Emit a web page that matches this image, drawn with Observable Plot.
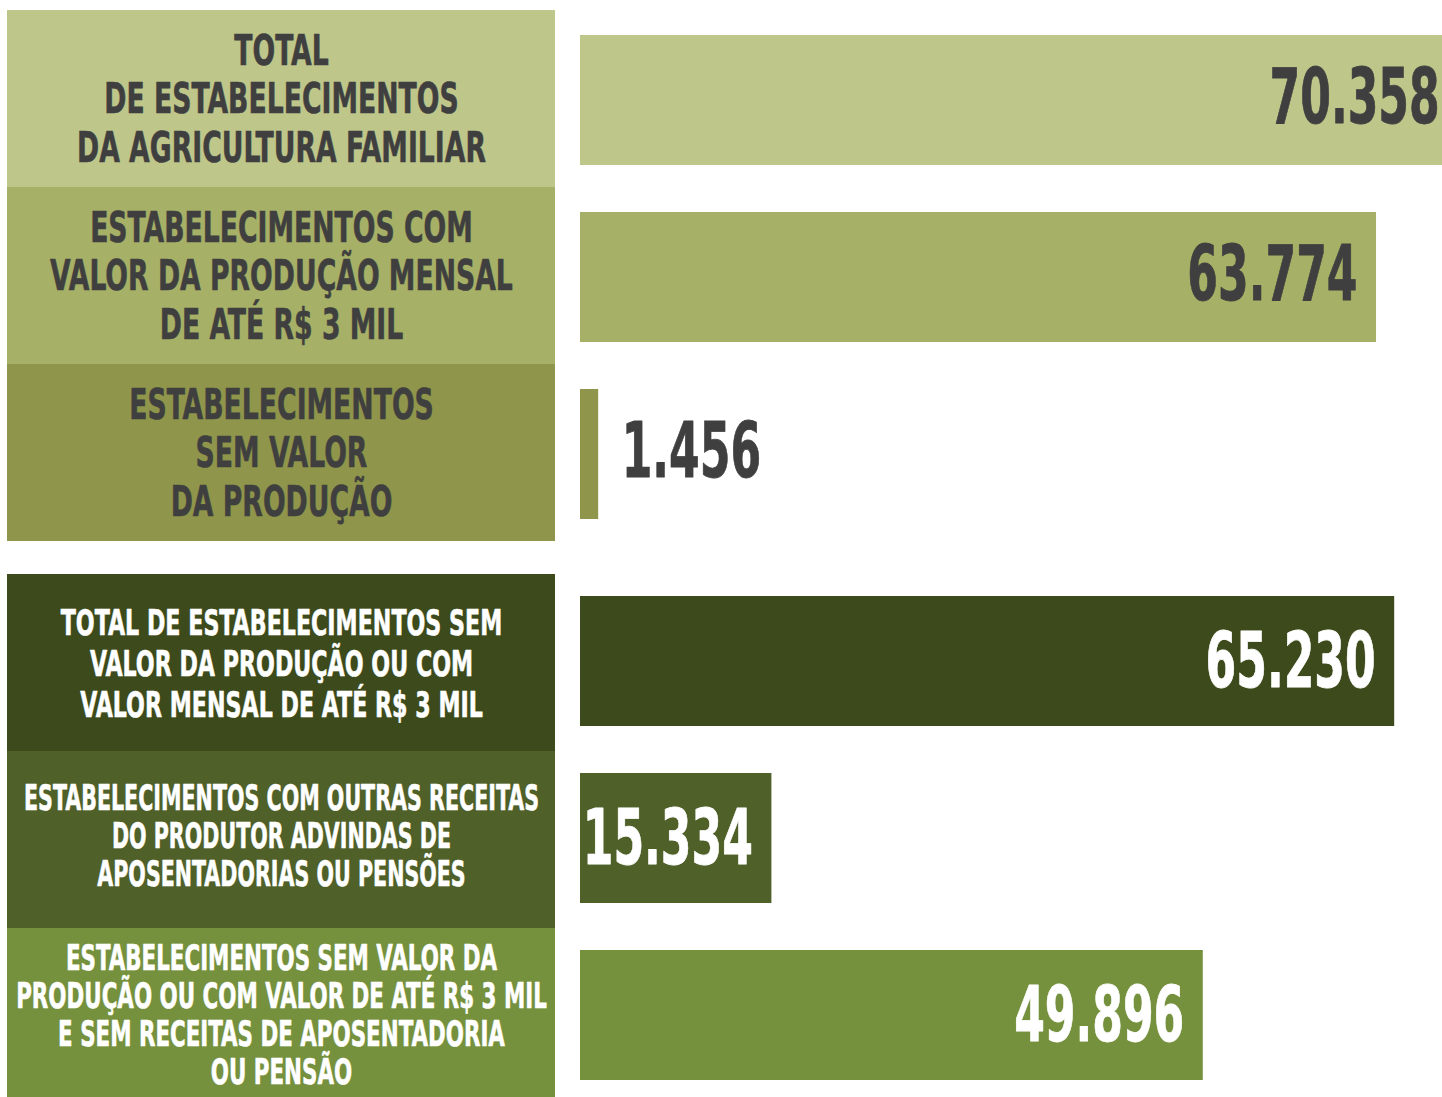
<!DOCTYPE html>
<html>
<head>
<meta charset="utf-8">
<script src="https://cdn.jsdelivr.net/npm/d3@7"></script>
<script src="https://cdn.jsdelivr.net/npm/@observablehq/plot@0.6"></script>
<style>
  html, body { margin: 0; padding: 0; background: #ffffff; overflow: hidden; }
  #chart { position: relative; width: 1442px; height: 1097px; overflow: hidden; background: #fff; }
  .panel { position: absolute; }
</style>
</head>
<body>
<div id="chart"></div>
<script>
// ---- data ----
const labels = [
  "TOTAL\nDE ESTABELECIMENTOS\nDA AGRICULTURA FAMILIAR",
  "ESTABELECIMENTOS COM\nVALOR DA PRODUÇÃO MENSAL\nDE ATÉ R$ 3 MIL",
  "ESTABELECIMENTOS\nSEM VALOR\nDA PRODUÇÃO",
  "TOTAL DE ESTABELECIMENTOS SEM\nVALOR DA PRODUÇÃO OU COM\nVALOR MENSAL DE ATÉ R$ 3 MIL",
  "ESTABELECIMENTOS COM OUTRAS RECEITAS\nDO PRODUTOR ADVINDAS DE\nAPOSENTADORIAS OU PENSÕES",
  "ESTABELECIMENTOS SEM VALOR DA\nPRODUÇÃO OU COM VALOR DE ATÉ R$ 3 MIL\nE SEM RECEITAS DE APOSENTADORIA\nOU PENSÃO"
];
const values = [70358, 63774, 1456, 65230, 15334, 49896];
const groups = ["A", "A", "A", "B", "B", "B"];
const palette = ["#bec68a", "#a6b066", "#8f964b", "#3d4b1c", "#4f6029", "#76913d"];

const rows = labels.map((label, i) => ({label, value: values[i], group: groups[i]}));
const br = d3.formatLocale({decimal: ",", thousands: ".", grouping: [3], currency: ["R$", ""]});
const fmt = br.format(",d");

const FONT = "'DejaVu Sans Condensed', 'Liberation Sans', sans-serif";
const DARK = "#3f3f3f";

// horizontally condense each text mark (one factor per text mark, in mark order)
function squeeze(svg, factors) {
  svg.querySelectorAll('g[aria-label="text"]').forEach((g, k) => {
    const s = factors[Math.min(k, factors.length - 1)];
    g.querySelectorAll("text").forEach(t => {
      const tr = t.getAttribute("transform") || "";
      const x = +t.getAttribute("x") || 0;
      t.setAttribute("transform", `${tr} translate(${x},0) scale(${s},1) translate(${-x},0)`);
    });
  });
}

const chart = document.getElementById("chart");
const colorScale = {domain: labels, range: palette};
const xMax = 69060;

function place(node, left, top) {
  node.classList.add("panel");
  node.style.left = left + "px";
  node.style.top = top + "px";
  node.style.overflow = "visible";
  chart.appendChild(node);
}

["A", "B"].forEach((g, gi) => {
  const data = rows.filter(d => d.group === g);
  const txt = g === "A" ? DARK : "#ffffff";
  const top = gi === 0 ? 9 : 573;
  const common = {y: "label", text: "label", frameAnchor: "middle", fill: txt, stroke: txt,
    strokeWidth: 0.6, fontFamily: FONT, fontWeight: "bold"};

  // label column
  const textMarks = g === "A"
    ? [Plot.text(data, {...common, fontSize: 43, lineHeight: 1.12, dy: -1})]
    : [
        Plot.text(data.slice(0, 1), {...common, fontSize: 36, lineHeight: 1.14}),
        Plot.text(data.slice(1, 2), {...common, fontSize: 35, lineHeight: 1.09, dy: -4}),
        Plot.text(data.slice(2), {...common, fontSize: 35, lineHeight: 1.09, dy: -2})
      ];
  const left = Plot.plot({
    width: 548, height: 532,
    margin: 0,
    y: {type: "band", domain: data.map(d => d.label), padding: 0, axis: null},
    color: colorScale,
    marks: [
      Plot.cell(data, {y: "label", fill: "label"}),
      ...textMarks
    ]
  });
  squeeze(left, g === "A" ? [0.69] : [0.685, 0.655, 0.68]);
  place(left, 7, top);

  // bars
  const numStyle = {x: "value", y: "label", text: d => fmt(d.value), fill: txt, stroke: txt,
    strokeWidth: 0.8, fontFamily: FONT, fontWeight: "bold", fontSize: 76};
  const right = Plot.plot({
    width: 862, height: 532,
    margin: 0,
    x: {domain: [0, xMax], axis: null},
    y: {type: "band", domain: data.map(d => d.label), padding: 0, axis: null},
    color: colorScale,
    marks: [
      Plot.barX(data, {x: "value", y: "label", fill: "label", insetTop: g === "A" ? 25 : 22, insetBottom: g === "A" ? 22 : 25, clip: true}),
      Plot.text(data.filter(d => d.value > 10000), {...numStyle, textAnchor: "end", dx: -19}),
      Plot.text(data.filter(d => d.value <= 10000), {...numStyle, textAnchor: "start", dx: 23})
    ]
  });
  squeeze(right, [0.645]);
  place(right, 580, top);
});
</script>
</body>
</html>
